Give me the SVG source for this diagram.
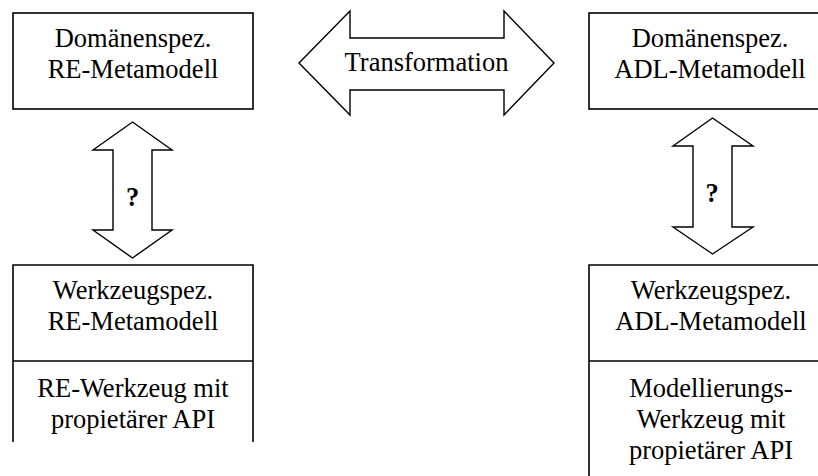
<svg xmlns="http://www.w3.org/2000/svg" width="818" height="476" viewBox="0 0 818 476">
  <style>
    .box { fill: none; stroke: #000; stroke-width: 1.6; }
    .arrow { fill: #fff; stroke: #000; stroke-width: 1.4; stroke-linejoin: miter; }
    .t { font-family: 'Liberation Serif', Tinos, 'Times New Roman', Times, serif; font-size: 26.5px; fill: #000; text-anchor: middle; }
    .q { font-weight: bold; }
  </style>
  <rect x="0" y="0" width="818" height="476" fill="#fff"/>

  <!-- block arrows between the metamodels -->
  <g id="connectors">
    <g id="transformation">
      <polygon class="arrow" points="299,63 350,11 350,38 504,38 504,11 554,63 504,115 504,90 350,90 350,115"/>
      <text class="t" x="426.5" y="71" font-family="Liberation Serif, serif">Transformation</text>
    </g>
    <g id="re-mapping">
      <polygon class="arrow" points="132.5,122 172,150 152,150 152,230 172,230 132.5,258 93,230 113,230 113,150 93,150"/>
      <text class="t q" x="132.5" y="206">?</text>
    </g>
    <g id="adl-mapping">
      <polygon class="arrow" points="712.5,118 753,146 732,146 732,227 753,227 712.5,254 673,227 693,227 693,146 673,146"/>
      <text class="t q" x="712" y="202">?</text>
    </g>
  </g>

  <g id="re-domain">
    <rect class="box" x="13" y="13" width="240" height="96"/>
    <text class="t" x="133" y="47">Domänenspez.</text>
    <text class="t" x="133" y="78">RE-Metamodell</text>
  </g>

  <g id="adl-domain">
    <rect class="box" x="589" y="13" width="240" height="96"/>
    <text class="t" x="710" y="47">Domänenspez.</text>
    <text class="t" x="710" y="78">ADL-Metamodell</text>
  </g>

  <g id="re-tool">
    <path class="box" d="M13,442 V265 H253 V442 M13,361 H253"/>
    <text class="t" x="133" y="299">Werkzeugspez.</text>
    <text class="t" x="133" y="330">RE-Metamodell</text>
    <text class="t" x="133" y="397">RE-Werkzeug mit</text>
    <text class="t" x="133" y="428">propietärer API</text>
  </g>

  <g id="adl-tool">
    <path class="box" d="M589,480 V265 H829 V480 M589,361 H829"/>
    <text class="t" x="711" y="299">Werkzeugspez.</text>
    <text class="t" x="711" y="330">ADL-Metamodell</text>
    <text class="t" x="711" y="397">Modellierungs-</text>
    <text class="t" x="711" y="428">Werkzeug mit</text>
    <text class="t" x="711" y="459">propietärer API</text>
  </g>
</svg>
